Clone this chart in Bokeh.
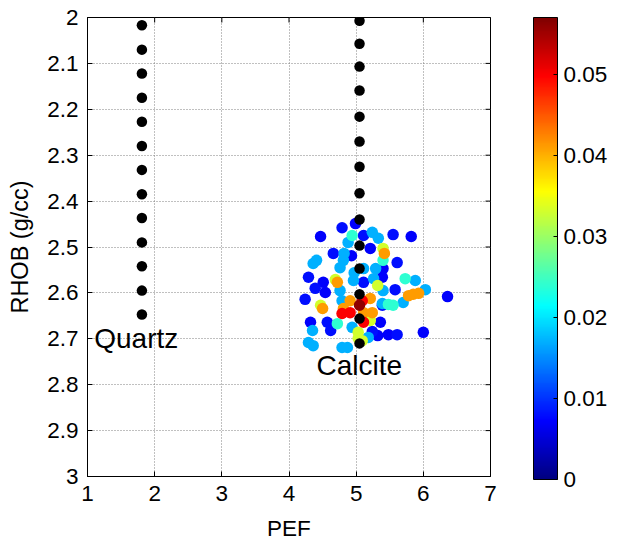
import numpy as np
from bokeh.plotting import figure
from bokeh.models import (Range1d, ColorBar, LinearColorMapper,
                          FixedTicker, ColumnDataSource)
from bokeh.core.properties import value
from bokeh.embed import file_html
from bokeh.resources import INLINE

# ---------------- data ----------------
quartz_pef = 1.81
quartz_rhob = [2.017, 2.070, 2.122, 2.175, 2.227, 2.280, 2.332, 2.385,
               2.437, 2.490, 2.542, 2.595, 2.647]
calcite_pef = 5.05
calcite_rhob = [2.007, 2.057, 2.107, 2.159, 2.216, 2.270, 2.325, 2.383,
                2.440, 2.497, 2.547, 2.603, 2.656, 2.710]

pef = [4.47, 4.79, 4.99, 5.11, 5.21, 4.66, 4.93, 4.29, 4.51, 5.11, 5.39, 5.55,
       5.82, 5.61, 5.40, 4.39, 4.54, 4.24, 4.32, 4.57, 5.36, 4.62, 5.32, 5.58,
       6.36, 5.39, 5.48, 5.61, 6.00, 5.24,
       4.88, 5.24, 5.33, 4.82, 4.81, 4.41, 4.36, 4.76, 4.97, 5.11, 5.29, 4.96,
       5.26, 4.76, 4.79, 5.39, 4.35, 4.94, 5.18, 4.29, 4.36, 4.79, 4.87, 5.88,
       6.03, 5.70, 5.40,
       4.94, 5.40, 5.73, 5.55, 5.48, 4.72,
       5.40, 4.69, 5.32, 4.47, 5.21, 5.03, 5.09, 5.03,
       5.42, 4.72, 4.50, 4.91, 5.21, 4.81, 5.11, 5.24, 5.85, 5.93, 5.78,
       5.09, 4.79, 4.91, 5.11,
       5.05]
rhob = [2.477, 2.458, 2.449, 2.475, 2.503, 2.514, 2.519, 2.566, 2.577, 2.577,
        2.566, 2.473, 2.477, 2.534, 2.547, 2.590, 2.599, 2.614, 2.664, 2.664,
        2.664, 2.682, 2.693, 2.593, 2.608, 2.627, 2.691, 2.691, 2.686, 2.684,
        2.490, 2.468, 2.481, 2.514, 2.529, 2.529, 2.536, 2.545, 2.556, 2.547,
        2.547, 2.573, 2.569, 2.595, 2.617, 2.623, 2.682, 2.675, 2.697, 2.708,
        2.715, 2.719, 2.719, 2.573, 2.593, 2.621, 2.595,
        2.475, 2.529, 2.569, 2.627, 2.625, 2.667,
        2.503, 2.571, 2.584, 2.627, 2.660, 2.686, 2.704, 2.699,
        2.514, 2.577, 2.634, 2.617, 2.612, 2.634, 2.643, 2.643, 2.603, 2.601,
        2.606,
        2.617, 2.645, 2.643, 2.664,
        2.627]
val = [0.007, 0.008, 0.007, 0.008, 0.007, 0.008, 0.007, 0.008, 0.007, 0.008,
       0.007, 0.008, 0.007, 0.008, 0.007, 0.008, 0.007, 0.008, 0.007, 0.008,
       0.007, 0.008, 0.007, 0.008, 0.007, 0.008, 0.007, 0.008, 0.007, 0.008,
       0.017, 0.017, 0.017, 0.017, 0.017, 0.017, 0.017, 0.017, 0.017, 0.017,
       0.017, 0.017, 0.017, 0.017, 0.017, 0.017, 0.017, 0.017, 0.017, 0.017,
       0.017, 0.017, 0.017, 0.017, 0.017, 0.017, 0.017,
       0.024, 0.024, 0.024, 0.024, 0.024, 0.024,
       0.033, 0.033, 0.033, 0.033, 0.033, 0.033, 0.033, 0.033,
       0.041, 0.041, 0.041, 0.041, 0.041, 0.041, 0.041, 0.041, 0.041, 0.041,
       0.041,
       0.050, 0.050, 0.050, 0.050,
       0.056]

x_ticks = [1, 2, 3, 4, 5, 6, 7]
y_ticks = [2.0, 2.1, 2.2, 2.3, 2.4, 2.5, 2.6, 2.7, 2.8, 2.9, 3.0]
cbar_ticks = [0, 0.01, 0.02, 0.03, 0.04, 0.05]
cbar_labels = ["0", "0.01", "0.02", "0.03", "0.04", "0.05"]
cbar_low, cbar_high = 0.0, 0.057
x_min, x_max = 1, 7
y_top, y_bottom = 2, 3

# ---------------- jet palette ----------------
def jet(n=256):
    out = []
    for i in range(n):
        t = i / (n - 1)
        r = min(max(1.5 - abs(4 * t - 3), 0), 1)
        g = min(max(1.5 - abs(4 * t - 2), 0), 1)
        b = min(max(1.5 - abs(4 * t - 1), 0), 1)
        out.append("#%02x%02x%02x" % (int(round(r * 255)), int(round(g * 255)), int(round(b * 255))))
    return out

FONT = "Liberation Sans"
FS = "22.5px"
mapper = LinearColorMapper(palette=jet(), low=cbar_low, high=cbar_high)

order = np.argsort(val, kind="stable")
src = ColumnDataSource(dict(x=[pef[i] for i in order],
                            y=[rhob[i] for i in order],
                            v=[val[i] for i in order]))

p = figure(frame_width=403, frame_height=459,
           x_range=Range1d(x_min, x_max), y_range=Range1d(y_bottom, y_top),
           output_backend="svg", toolbar_location=None,
           min_border_left=87, min_border_top=17, min_border_bottom=67,
           min_border_right=125, background_fill_color="white",
           border_fill_color="white")
p.outline_line_color = "black"
p.outline_line_width = 1

for ax in (p.xaxis[0], p.yaxis[0]):
    ax.major_tick_in = 5
    ax.major_tick_out = 0
    ax.minor_tick_line_color = None
    ax.major_label_text_font = FONT
    ax.major_label_text_font_size = FS
    ax.major_label_text_color = "black"
    ax.axis_label_text_font = FONT
    ax.axis_label_text_font_size = FS
    ax.axis_label_text_font_style = "normal"
    ax.axis_label_text_color = "black"
    ax.axis_line_color = "black"
    ax.major_tick_line_color = "black"

p.yaxis[0].axis_label_text_font_size = "23.5px"
p.xaxis[0].ticker = FixedTicker(ticks=x_ticks)
p.yaxis[0].ticker = FixedTicker(ticks=y_ticks)
p.yaxis[0].major_label_overrides = {2: "2", 3: "3"}
p.xaxis[0].axis_label = "PEF"
p.yaxis[0].axis_label = "RHOB (g/cc)"
p.xaxis[0].major_label_standoff = 9
p.yaxis[0].major_label_standoff = 9
p.xaxis[0].axis_label_standoff = 12
p.yaxis[0].axis_label_standoff = 11

p.xgrid.ticker = FixedTicker(ticks=x_ticks)
p.ygrid.ticker = FixedTicker(ticks=y_ticks)
p.grid.grid_line_color = "#808080"
p.grid.grid_line_dash = "1 2"
p.grid.grid_line_width = 1

# inward ticks on the top and right edges (half of each dash is clipped by the frame)
p.scatter(x_ticks, [y_top] * len(x_ticks), marker="dash", angle=np.pi / 2,
          size=10, line_color="black", line_width=1)
p.scatter([x_max] * len(y_ticks), y_ticks, marker="dash",
          size=10, line_color="black", line_width=1)

p.scatter("x", "y", source=src, size=11.5, line_color=None,
          fill_color={"field": "v", "transform": mapper})
p.scatter([quartz_pef] * len(quartz_rhob), quartz_rhob, size=10.5,
          fill_color="black", line_color=None)
p.scatter([calcite_pef] * len(calcite_rhob), calcite_rhob, size=10.5,
          fill_color="black", line_color=None)

p.text(x=[1.1], y=[2.70], text=["Quartz"], text_font=value(FONT),
       text_font_size="28px", text_baseline="middle", text_align="left",
       text_color="black")
p.text(x=[4.41], y=[2.758], text=["Calcite"], text_font=value(FONT),
       text_font_size="28px", text_baseline="middle", text_align="left",
       text_color="black")

cb = ColorBar(color_mapper=mapper, width=24, height=462,
              ticker=FixedTicker(ticks=cbar_ticks),
              major_label_overrides={t: l for t, l in zip(cbar_ticks, cbar_labels)},
              major_label_text_font=FONT, major_label_text_font_size=FS,
              major_label_text_color="black",
              major_tick_in=4, major_tick_out=0, major_tick_line_color="black",
              label_standoff=6, bar_line_color="black",
              padding=0, margin=0, location=(43, -3),
              background_fill_color=None, border_line_color=None)
p.add_layout(cb, "right")

open("out.html", "w").write(file_html(p, INLINE))
